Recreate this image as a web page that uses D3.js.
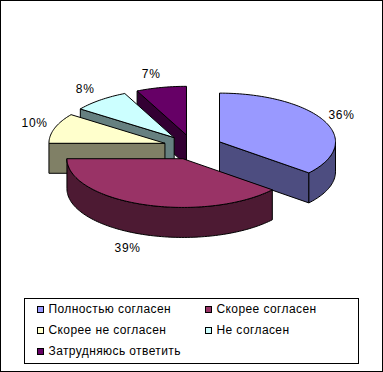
<!DOCTYPE html>
<html>
<head>
<meta charset="utf-8">
<script src="https://cdn.jsdelivr.net/npm/d3@7/dist/d3.min.js"></script>
<style>
  html, body { margin: 0; padding: 0; background: #fff; }
  svg { display: block; }
  text { font-family: "Liberation Sans", Arial, sans-serif; font-size: 12px; fill: #000; }
</style>
</head>
<body>
<div id="chart"></div>
<script>
// Data
var categories = ["Полностью согласен", "Скорее согласен", "Скорее не согласен", "Не согласен", "Затрудняюсь ответить"];
var values = [36, 39, 10, 8, 7];
var topColors = ["#9999ff", "#993366", "#ffffcc", "#ccffff", "#660066"];
var sideColors = ["#4d4d80", "#4d1a33", "#808066", "#668080", "#330033"];

var width = 383, height = 372;

// Pie geometry: tilted, exploded, with a 3D wall
var center = { x: 192.9, y: 147.1 };
var radius = 116, tilt = 0.42, explode = 29.4, depth = 30;

// label position relative to the middle of the slice's outer edge
var labelShift = [[17, -5], [-16, 44], [-20, -4], [-15, -10], [-10, -13]];

var svg = d3.select("#chart").append("svg")
    .attr("width", width)
    .attr("height", height);

svg.append("rect")
    .attr("x", 0.5).attr("y", 0.5)
    .attr("width", width - 1).attr("height", height - 1)
    .attr("fill", "#fff").attr("stroke", "#000");

var pie = d3.pie().sort(null).value(function(d) { return d.value; });

var slices = pie(values.map(function(v, i) { return { value: v, index: i }; }));

// angle is clockwise from 12 o'clock, like d3.pie
function project(apex, angle, r, z) {
    return [
        apex[0] + r * Math.sin(angle),
        apex[1] - r * tilt * Math.cos(angle) + (z || 0)
    ];
}

function arcPoints(apex, a0, a1, z) {
    var n = Math.max(2, Math.ceil((a1 - a0) * 40));
    return d3.range(n + 1).map(function(i) {
        return project(apex, a0 + (a1 - a0) * i / n, radius, z);
    });
}

var line = d3.line();

slices.forEach(function(d) {
    var mid = (d.startAngle + d.endAngle) / 2;
    d.mid = mid;
    d.apex = project([center.x, center.y], mid, explode);
});

// back slices first, the big front slice last
var drawOrder = [4, 3, 2, 0, 1];

var pieGroup = svg.append("g").attr("stroke", "#000").attr("stroke-width", 1).attr("stroke-linejoin", "round");

function cutFace(g, d, a, side) {
    var outer = project(d.apex, a, radius);
    var pts = [d.apex, outer, [outer[0], outer[1] + depth], [d.apex[0], d.apex[1] + depth]];
    g.append("path").attr("d", line(pts) + "Z").attr("fill", side);
}

drawOrder.forEach(function(i) {
    var d = slices[i];
    var g = pieGroup.append("g").attr("class", "slice");
    var side = sideColors[i];

    // cut faces, only those turned to the viewer
    if (Math.sin(d.startAngle) <= 0) cutFace(g, d, d.startAngle, side);
    if (Math.sin(d.endAngle) > 0) cutFace(g, d, d.endAngle, side);

    // outer wall, only the part that faces the viewer
    var w0 = Math.max(d.startAngle, Math.PI / 2);
    var w1 = Math.min(d.endAngle, Math.PI * 1.5);
    if (w1 > w0) {
        var upper = arcPoints(d.apex, w0, w1, 0);
        var lower = arcPoints(d.apex, w0, w1, depth).reverse();
        g.append("path").attr("d", line(upper.concat(lower)) + "Z").attr("fill", side);
    }

    // top face
    var top = [d.apex].concat(arcPoints(d.apex, d.startAngle, d.endAngle, 0));
    g.append("path").attr("d", line(top) + "Z").attr("fill", topColors[i]);
});

// percent labels
slices.forEach(function(d, i) {
    var p = project(d.apex, d.mid, radius);
    svg.append("text")
        .attr("x", p[0] + labelShift[i][0])
        .attr("y", p[1] + labelShift[i][1])
        .attr("text-anchor", "middle")
        .attr("dominant-baseline", "middle")
        .style("letter-spacing", "0.7px")
        .text(values[i] + "%");
});

// Legend
var legend = svg.append("g").attr("class", "legend");
legend.append("rect")
    .attr("x", 24.5).attr("y", 298.5)
    .attr("width", 334).attr("height", 65)
    .attr("fill", "#fff").attr("stroke", "#000");

var legendX = d3.scaleOrdinal().domain([0, 1]).range([37.5, 205.5]);
var legendY = d3.scaleOrdinal().domain([0, 1, 2]).range([309.5, 330.5, 351.5]);

categories.forEach(function(c, i) {
    var col = i % 2, row = Math.floor(i / 2);
    legend.append("rect")
        .attr("x", legendX(col)).attr("y", legendY(row) - 3)
        .attr("width", 6).attr("height", 6)
        .attr("fill", topColors[i]).attr("stroke", "#000");
    legend.append("text")
        .attr("x", legendX(col) + 11)
        .attr("y", legendY(row) + 0.5)
        .attr("dominant-baseline", "middle")
        .style("letter-spacing", "0.4px")
        .text(c);
});
</script>
</body>
</html>
